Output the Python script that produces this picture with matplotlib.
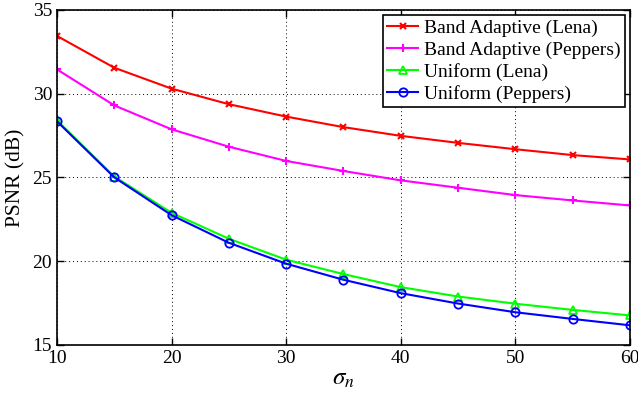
import matplotlib
matplotlib.use("Agg")
import matplotlib.pyplot as plt

sigma = [10, 15, 20, 25, 30, 35, 40, 45, 50, 55, 60]
band_lena = [33.45, 31.55, 30.3, 29.37, 28.63, 28.0, 27.48, 27.06, 26.68, 26.33, 26.07]
band_peppers = [31.45, 29.3, 27.87, 26.83, 25.98, 25.38, 24.82, 24.38, 23.94, 23.62, 23.32]
uni_lena = [28.4, 25.05, 22.88, 21.33, 20.08, 19.22, 18.44, 17.88, 17.45, 17.08, 16.75]
uni_peppers = [28.35, 25.0, 22.74, 21.09, 19.84, 18.88, 18.08, 17.46, 16.94, 16.54, 16.16]
labels = ["Band Adaptive (Lena)", "Band Adaptive (Peppers)", "Uniform (Lena)", "Uniform (Peppers)"]

plt.rcParams['font.family'] = ['Liberation Serif', 'DejaVu Serif']
plt.rcParams['mathtext.fontset'] = 'stix'

fig = plt.figure(figsize=(6.38, 3.95), dpi=100)
ax = fig.add_axes([0.0893, 0.1273, 0.8982, 0.8474])

ax.plot(sigma, band_lena, color='#ff0000', marker='x', ms=5, mew=1.5, lw=1.5, label=labels[0])
ax.plot(sigma, band_peppers, color='#ff00ff', marker='+', ms=6, mew=1.5, lw=1.5, label=labels[1])
ax.plot(sigma, uni_lena, color='#00ff00', marker='^', ms=6, mew=1.3, mfc='none', lw=1.5, label=labels[2])
ax.plot(sigma, uni_peppers, color='#0000ff', marker='o', ms=6, mew=1.3, mfc='none', lw=1.5, label=labels[3])

ax.set_xlim(10, 60)
ax.set_ylim(15, 35)
ax.set_xticks([10, 20, 30, 40, 50, 60])
ax.set_yticks([15, 20, 25, 30, 35])
ax.grid(True, color='black', linestyle=(0, (1, 3)), linewidth=0.7)
ax.tick_params(direction='in', top=True, right=True, labelsize=14, length=5, width=1)
for s in ax.spines.values():
    s.set_linewidth(1.2)

ax.set_ylabel("PSNR (dB)", fontsize=15.5, labelpad=5)
ax.set_xlabel(r"$\sigma_n$", fontsize=18, labelpad=1)

leg = ax.legend(loc='upper right', fontsize=14, fancybox=False, edgecolor='black',
                framealpha=1, borderpad=0.22, labelspacing=0.22, handlelength=1.6,
                handletextpad=0.3, borderaxespad=0.25)
leg.get_frame().set_linewidth(1.2)

fig.savefig("out.png", dpi=100)
